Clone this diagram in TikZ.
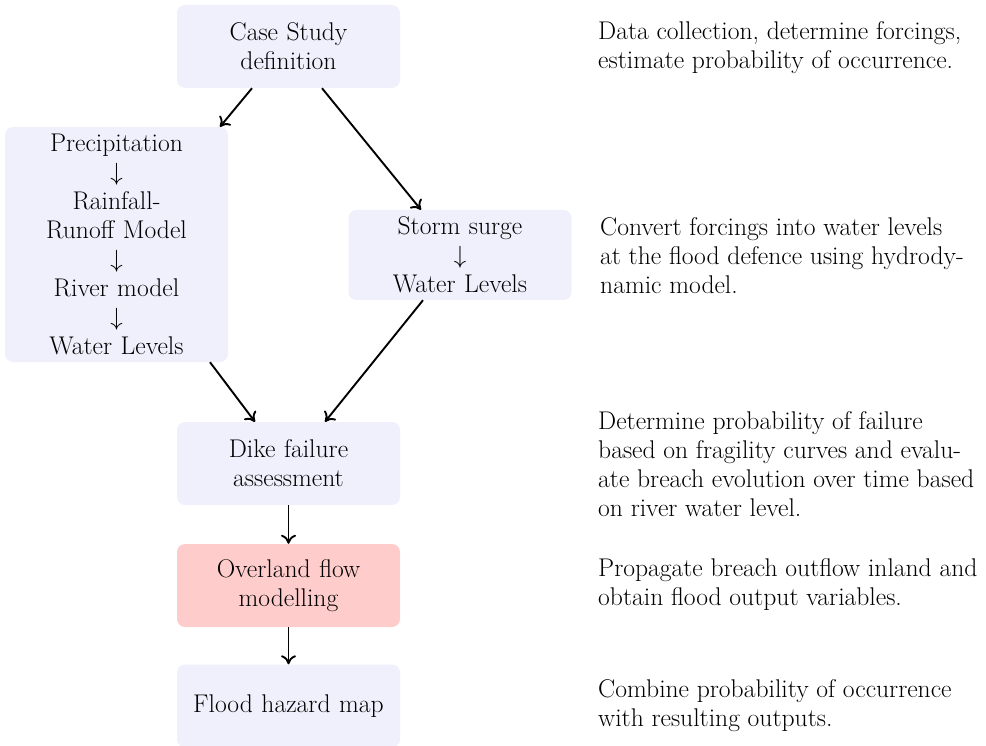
\documentclass[tikz,border=0pt]{standalone}
\usetikzlibrary{arrows.meta}
\definecolor{boxblue}{RGB}{240,240,252}
\definecolor{boxred}{RGB}{255,204,204}
\begin{document}
\begin{tikzpicture}[x=1pt,y=-1pt,
  box/.style={rounded corners=8pt, fill=boxblue, minimum width=223pt, text width=219pt, align=center, inner sep=0pt, font=\fontsize{25.6}{29}\selectfont},
  note/.style={anchor=west, align=left, inner sep=0pt, font=\fontsize{25.6}{29}\selectfont},
  arr/.style={-{Computer Modern Rightarrow[length=9pt,width=15pt]}, line width=1.9pt}]
\useasboundingbox (0,0) rectangle (986,746);
\node[box, minimum height=83pt] (case) at (288.5,46.5) {Case Study\\definition};
\node[box, minimum height=235pt] (rain) at (116.5,244.5) {Precipitation\\$\downarrow$\\Rainfall-\\Runoff Model\\$\downarrow$\\River model\\$\downarrow$\\Water Levels};
\node[box, minimum height=90pt] (storm) at (460,255) {Storm surge\\$\downarrow$\\Water Levels};
\node[box, minimum height=83pt] (dike) at (288.5,463.5) {Dike failure\\assessment};
\node[box, minimum height=83pt, fill=boxred] (over) at (288.5,585.5) {Overland flow\\modelling};
\node[box, minimum height=83pt] (map) at (288.5,706) {Flood hazard map};

\node[note] (n1) at (598,47.5) {Data collection, determine forcings,\\estimate probability of occurrence.};
\node[note] (n2) at (600,256) {Convert forcings into water levels\\at the flood defence using hydrody-\\namic model.};
\node[note] (n3) at (598,464) {Determine probability of failure\\based on fragility curves and evalu-\\ate breach evolution over time based\\on river water level.};
\node[note] (n4) at (598,585) {Propagate breach outflow inland and\\obtain flood output variables.};
\node[note] (n5) at (598,706) {Combine probability of occurrence\\with resulting outputs.};

\draw[arr] ([xshift=-36.5pt]case.south) -- ([xshift=103.5pt]rain.north);
\draw[arr] ([xshift=33.5pt]case.south) -- ([xshift=-39pt]storm.north);
\draw[arr] ([xshift=93.5pt]rain.south) -- ([xshift=-33.5pt]dike.north);
\draw[arr] ([xshift=-37pt]storm.south) -- ([xshift=36.5pt]dike.north);
\draw[arr] (dike.south) -- (over.north);
\draw[arr] (over.south) -- (map.north);
\end{tikzpicture}
\end{document}
